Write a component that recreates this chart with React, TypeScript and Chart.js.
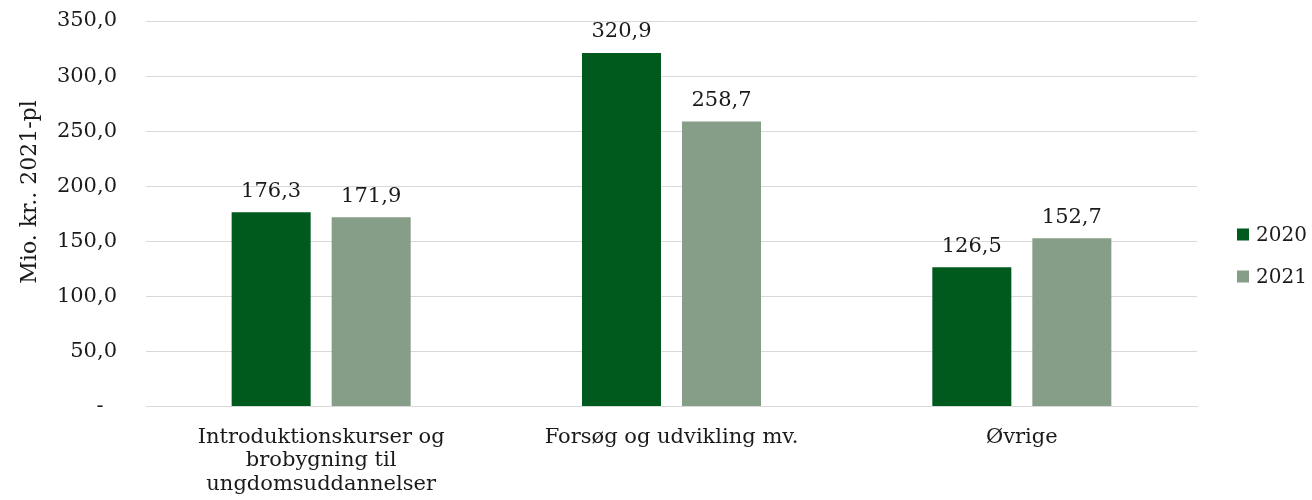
import React, { useEffect, useRef } from "react";
import { Chart, registerables } from "chart.js";
Chart.register(...registerables);

const categories: string[][] = [
  ["Introduktionskurser og", "brobygning til", "ungdomsuddannelser"],
  ["Forsøg og udvikling mv."],
  ["Øvrige"],
];
const series2020 = [176.3, 320.9, 126.5];
const series2021 = [171.9, 258.7, 152.7];
const yTicks = [0, 50, 100, 150, 200, 250, 300, 350];
const seriesNames = ["2020", "2021"];
const yTitle = "Mio. kr.. 2021-pl";

const FONT = "'DejaVu Serif', Georgia, serif";
const TEXT = "#1a1a1a";

const fmt = (v: number) => (v === 0 ? "-" : v.toFixed(1).replace(".", ","));

const extrasPlugin = {
  id: "extras",
  afterDatasetsDraw(chart: any) {
    const ctx = chart.ctx;
    ctx.save();
    // value labels
    ctx.font = `21px ${FONT}`;
    ctx.fillStyle = TEXT;
    ctx.textAlign = "center";
    ctx.textBaseline = "middle";
    chart.data.datasets.forEach((ds: any, i: number) => {
      const meta = chart.getDatasetMeta(i);
      meta.data.forEach((bar: any, j: number) => {
        ctx.fillText(fmt(ds.data[j]), bar.x, bar.y - 21);
      });
    });
    // legend
    ctx.font = `20px ${FONT}`;
    ctx.textAlign = "left";
    const lx = chart.chartArea.right + 40;
    chart.data.datasets.forEach((ds: any, i: number) => {
      const cy = 234.5 + i * 42;
      ctx.fillStyle = ds.backgroundColor;
      ctx.fillRect(lx, cy - 6, 12, 12);
      ctx.fillStyle = TEXT;
      ctx.fillText(ds.label, lx + 19, cy + 1);
    });
    // y axis title
    ctx.translate(30, 192);
    ctx.rotate(-Math.PI / 2);
    ctx.textAlign = "center";
    ctx.font = `22px ${FONT}`;
    ctx.fillText(yTitle, 0, 0);
    ctx.restore();
  },
};

export default function App() {
  const ref = useRef<HTMLCanvasElement>(null);
  useEffect(() => {
    const chart = new Chart(ref.current!, {
      type: "bar",
      data: {
        labels: categories,
        datasets: [
          { label: seriesNames[0], data: series2020, backgroundColor: "#005A1E" },
          { label: seriesNames[1], data: series2021, backgroundColor: "#869E87" },
        ],
      },
      options: {
        animation: false,
        responsive: true,
        maintainAspectRatio: false,
        layout: { padding: { top: 21, right: 115, left: 0, bottom: -15 } },
        datasets: { bar: { categoryPercentage: 0.571, barPercentage: 0.79 } } as any,
        scales: {
          x: {
            grid: { display: false, drawTicks: false },
            border: { color: "#d9d9d9", width: 1 },
            ticks: {
              color: TEXT,
              font: { family: FONT, size: 21, lineHeight: 1.12 },
              padding: 19,
              maxRotation: 0,
              autoSkip: false,
            },
          },
          y: {
            min: 0,
            max: 350,
            afterBuildTicks: (axis: any) => {
              axis.ticks = yTicks.map((v) => ({ value: v }));
            },
            afterFit: (axis: any) => {
              axis.width = 146;
            },
            grid: {
              color: "#d9d9d9",
              lineWidth: 1,
              drawTicks: true,
              tickLength: 29,
              tickColor: "rgba(0,0,0,0)",
            },
            border: { display: false },
            ticks: {
              color: TEXT,
              font: { family: FONT, size: 21 },
              padding: 0,
              callback: (v: any) => (Number(v) === 0 ? "-  " : fmt(Number(v))),
            },
          },
        },
        plugins: {
          legend: { display: false },
          tooltip: { enabled: false },
        },
      },
      plugins: [extrasPlugin],
    });
    return () => chart.destroy();
  }, []);
  return (
    <div style={{ position: "fixed", left: 0, top: 0, width: 1312, height: 500, background: "#fff" }}>
      <canvas ref={ref} />
    </div>
  );
}
